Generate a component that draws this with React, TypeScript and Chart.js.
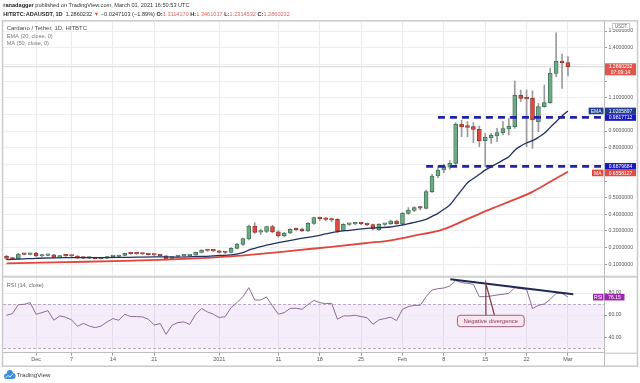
import React, { useEffect, useRef } from 'react';
import { Chart, registerables } from 'chart.js';

Chart.register(...registerables);

const FONT = '"Liberation Sans", Arial, Helvetica, sans-serif';

// Day offsets counted from 1 Dec 2020 (= 0); first candle is 26 Nov 2020.
const FIRST_DAY = -5;
const X_MIN = -5.6;
const X_MAX = 96.1;
const Y_MIN = -0.4306;
const Y_MAX = 1.5544;
const RSI_MIN = 26;
const RSI_MAX = 324.6;
const PANE_SPLIT_RSI = 94.6;

const opens = [
  0.148, 0.134, 0.134, 0.161, 0.160, 0.166, 0.150, 0.154, 0.157, 0.143,
  0.152, 0.151, 0.150, 0.138, 0.137, 0.138, 0.134, 0.137, 0.146, 0.147,
  0.154, 0.166, 0.164, 0.163, 0.162, 0.158, 0.156, 0.151, 0.131, 0.147,
  0.151, 0.152, 0.155, 0.172, 0.186, 0.183, 0.181, 0.172, 0.171, 0.196,
  0.220, 0.252, 0.330, 0.293, 0.298, 0.326, 0.295, 0.272, 0.288, 0.310,
  0.312, 0.300, 0.346, 0.376, 0.373, 0.370, 0.370, 0.304, 0.340, 0.343,
  0.346, 0.343, 0.338, 0.308, 0.340, 0.343, 0.360, 0.342, 0.406, 0.423,
  0.439, 0.436, 0.536, 0.630, 0.666, 0.683, 0.706, 0.940, 0.932, 0.926,
  0.910, 0.842, 0.858, 0.870, 0.890, 0.912, 0.926, 1.114, 1.096, 1.096,
  0.956, 1.046, 1.070, 1.246, 1.318, 1.3114170,
];
const highs = [
  0.154, 0.140, 0.166, 0.166, 0.168, 0.172, 0.158, 0.161, 0.160, 0.154,
  0.156, 0.154, 0.152, 0.142, 0.141, 0.140, 0.139, 0.148, 0.150, 0.156,
  0.168, 0.170, 0.167, 0.166, 0.164, 0.161, 0.159, 0.153, 0.148, 0.153,
  0.154, 0.157, 0.174, 0.188, 0.190, 0.186, 0.184, 0.178, 0.200, 0.226,
  0.258, 0.336, 0.350, 0.312, 0.330, 0.334, 0.302, 0.292, 0.314, 0.318,
  0.318, 0.350, 0.384, 0.384, 0.380, 0.378, 0.374, 0.344, 0.348, 0.350,
  0.350, 0.347, 0.342, 0.344, 0.346, 0.366, 0.366, 0.412, 0.440, 0.446,
  0.448, 0.546, 0.640, 0.690, 0.700, 0.722, 0.950, 0.966, 0.956, 0.950,
  0.930, 0.886, 0.886, 0.916, 0.956, 0.976, 1.200, 1.146, 1.146, 1.142,
  1.066, 1.176, 1.276, 1.490, 1.362, 1.3461017,
];
const lows = [
  0.128, 0.128, 0.132, 0.156, 0.157, 0.146, 0.146, 0.150, 0.140, 0.140,
  0.148, 0.146, 0.136, 0.134, 0.134, 0.132, 0.132, 0.136, 0.143, 0.145,
  0.152, 0.160, 0.159, 0.158, 0.155, 0.152, 0.149, 0.126, 0.129, 0.144,
  0.148, 0.149, 0.153, 0.168, 0.178, 0.176, 0.168, 0.166, 0.168, 0.192,
  0.214, 0.246, 0.286, 0.278, 0.290, 0.288, 0.262, 0.264, 0.284, 0.300,
  0.296, 0.296, 0.340, 0.362, 0.360, 0.356, 0.290, 0.300, 0.334, 0.338,
  0.338, 0.332, 0.306, 0.304, 0.334, 0.340, 0.340, 0.332, 0.400, 0.416,
  0.426, 0.432, 0.530, 0.620, 0.650, 0.670, 0.700, 0.866, 0.866, 0.830,
  0.806, 0.686, 0.826, 0.836, 0.876, 0.876, 0.916, 1.076, 0.806, 0.796,
  0.896, 1.042, 1.066, 1.226, 1.156, 1.2314532,
];
const closes = [
  0.136, 0.132, 0.162, 0.160, 0.164, 0.150, 0.154, 0.158, 0.142, 0.152,
  0.151, 0.150, 0.138, 0.137, 0.138, 0.134, 0.137, 0.146, 0.148, 0.154,
  0.166, 0.164, 0.163, 0.162, 0.158, 0.156, 0.152, 0.131, 0.146, 0.151,
  0.152, 0.155, 0.172, 0.186, 0.183, 0.181, 0.171, 0.171, 0.196, 0.222,
  0.254, 0.330, 0.292, 0.297, 0.326, 0.294, 0.272, 0.288, 0.310, 0.308,
  0.302, 0.346, 0.380, 0.374, 0.370, 0.366, 0.300, 0.340, 0.343, 0.346,
  0.344, 0.338, 0.312, 0.340, 0.341, 0.360, 0.344, 0.406, 0.426, 0.440,
  0.437, 0.536, 0.630, 0.666, 0.686, 0.706, 0.940, 0.926, 0.922, 0.910,
  0.842, 0.862, 0.874, 0.890, 0.914, 0.930, 1.114, 1.096, 1.093, 0.966,
  1.046, 1.070, 1.246, 1.318, 1.311, 1.2860232,
];
const rsiValues = [
  59.8, 61.3, 69.4, 69.7, 71.2, 60.7, 62.2, 64.0, 55.3, 59.2,
  58.0, 55.6, 49.8, 52.5, 50.1, 48.6, 50.1, 53.8, 56.8, 55.3,
  60.7, 58.6, 58.6, 58.3, 56.2, 51.0, 52.3, 42.6, 50.7, 53.2,
  53.8, 51.6, 60.7, 65.8, 62.8, 60.7, 57.7, 58.6, 66.7, 71.2,
  76.6, 84.7, 73.6, 73.6, 76.3, 68.2, 60.7, 62.2, 66.1, 66.1,
  65.2, 69.4, 73.3, 71.2, 70.3, 70.6, 56.2, 59.2, 59.2, 59.8,
  58.6, 57.7, 51.6, 55.6, 56.8, 58.0, 55.0, 65.2, 67.6, 68.8,
  68.8, 76.6, 82.6, 83.8, 84.4, 86.2, 91.1, 89.3, 88.7, 87.7,
  76.6, 76.6, 77.2, 78.1, 78.7, 79.6, 84.7, 83.8, 83.2, 65.8,
  68.8, 70.0, 74.2, 79.6, 79.6, 76.15,
];

const emaDays = [-5, -2, 0, 5, 10, 15, 20, 24, 28, 31, 33, 35, 36, 37, 38, 39, 41, 44, 47, 49, 51, 53, 56, 58, 60, 62, 64, 66, 67, 68, 69, 70, 71, 72, 73, 74, 75, 76, 77, 78, 79, 80, 81, 82, 83, 84, 85, 86, 87, 88, 89, 90];
const emaValues = [0.128, 0.133, 0.136, 0.140, 0.140, 0.142, 0.145, 0.143, 0.147, 0.153, 0.157, 0.170, 0.185, 0.196, 0.206, 0.215, 0.230, 0.250, 0.268, 0.282, 0.296, 0.304, 0.316, 0.320, 0.324, 0.336, 0.352, 0.370, 0.388, 0.406, 0.430, 0.456, 0.500, 0.545, 0.590, 0.615, 0.640, 0.665, 0.685, 0.705, 0.725, 0.745, 0.785, 0.810, 0.828, 0.842, 0.862, 0.886, 0.922, 0.956, 0.990, 1.0205897];

const maDays = [-5, 5, 15, 22, 28, 33, 38, 44, 50, 56, 60, 64, 68, 70, 72, 75, 78, 81, 84, 87, 90];
const maValues = [0.106, 0.113, 0.120, 0.128, 0.137, 0.147, 0.162, 0.184, 0.205, 0.228, 0.244, 0.272, 0.300, 0.325, 0.356, 0.403, 0.447, 0.490, 0.535, 0.595, 0.6558127];

const tickDays = [0, 6, 13, 20, 31, 41, 48, 55, 62, 69, 76, 83, 90];
const tickLabels = ['Dec', '7', '14', '21', '2021', '11', '18', '25', 'Feb', '8', '15', '22', 'Mar'];
const priceTicks = [0.1, 0.2, 0.3, 0.4, 0.5, 0.6, 0.7, 0.8, 0.9, 1.0, 1.1, 1.2, 1.3, 1.4, 1.5];
const hiddenPriceTicks = [0.6, 0.7, 1.0, 1.2, 1.3];
const rsiTicks = [40, 60, 80];
const rsiBand = [30, 70];
const levelValues = [0.9817712, 0.6879684];
const levelStartDays = [68, 66];
const divergenceDays = [70.1, 90.9];
const divergenceRsi = [92.3, 78.8];
const lastRsiText = '76.15';
const countdownText = '07:09:14';

const headerLine1 = ['ranadagger', ' published on TradingView.com, March 01, 2021 16:50:53 UTC'];
const headerLine2: [string, boolean, string][] = [
  ['HITBTC:ADAUSDT, 1D', true, '#2b2b2b'],
  ['  1.2860232 ', false, '#2b2b2b'],
  ['\u25BC', false, '#e0504a'],
  [' \u22120.0247103 (\u22121.89%) ', false, '#2b2b2b'],
  ['O:', true, '#2b2b2b'],
  ['1.3114170', false, '#e3645b'],
  [' H:', true, '#2b2b2b'],
  ['1.3461017', false, '#e3645b'],
  [' L:', true, '#2b2b2b'],
  ['1.2314532', false, '#e3645b'],
  [' C:', true, '#2b2b2b'],
  ['1.2860232', false, '#e3645b'],
];
const legendLines = ['Cardano / Tether, 1D, HITBTC', 'EMA (20, close, 0)', 'MA (50, close, 0)'];

const UP_FILL = '#6aab84';
const UP_EDGE = '#3c6a4f';
const DOWN_FILL = '#e0493f';
const DOWN_EDGE = '#8a2e27';

function tag(ctx: CanvasRenderingContext2D, x: number, y: number, w: number, h: number, bg: string, lines: string[], align: 'center' | 'left' = 'center') {
  ctx.fillStyle = bg;
  ctx.fillRect(x, y, w, h);
  ctx.fillStyle = '#ffffff';
  ctx.font = `5px ${FONT}`;
  ctx.textBaseline = 'middle';
  ctx.textAlign = align;
  const lh = h / lines.length;
  lines.forEach((t, i) => {
    ctx.fillText(t, align === 'center' ? x + w / 2 : x + 2, y + lh * i + lh / 2 + 0.2);
  });
}

const decor = {
  id: 'decor',
  beforeDatasetsDraw(chart: any) {
    const { ctx, chartArea: a } = chart;
    const yr = chart.scales.yr;
    ctx.save();
    const y70 = yr.getPixelForValue(rsiBand[1]);
    const y30 = yr.getPixelForValue(rsiBand[0]);
    ctx.fillStyle = 'rgba(160, 100, 205, 0.11)';
    ctx.fillRect(a.left, y70, a.right - a.left, y30 - y70);
    ctx.strokeStyle = '#ececec';
    ctx.lineWidth = 1;
    rsiTicks.forEach((v) => {
      const y = Math.round(yr.getPixelForValue(v)) + 0.5;
      ctx.beginPath();
      ctx.moveTo(a.left, y);
      ctx.lineTo(a.right, y);
      ctx.stroke();
    });
    ctx.setLineDash([3, 2]);
    ctx.strokeStyle = '#b9a8c6';
    [y70, y30].forEach((yy) => {
      const y = Math.round(yy) + 0.5;
      ctx.beginPath();
      ctx.moveTo(a.left, y);
      ctx.lineTo(a.right, y);
      ctx.stroke();
    });
    ctx.restore();
  },
  afterDatasetsDraw(chart: any) {
    const { ctx } = chart;
    const x = chart.scales.x;
    const yr = chart.scales.yr;
    ctx.save();
    // callout for the annotation
    const ax = x.getPixelForValue(76.1);
    const ay = yr.getPixelForValue(88.7);
    const bl = x.getPixelForValue(76.12);
    const br = x.getPixelForValue(77.57);
    const bx1 = x.getPixelForValue(71.3);
    const bx2 = x.getPixelForValue(82.6);
    const by1 = yr.getPixelForValue(59.8);
    const by2 = yr.getPixelForValue(49.5);
    ctx.strokeStyle = '#8a3545';
    ctx.lineWidth = 1.2;
    ctx.beginPath();
    ctx.moveTo(bl, by1);
    ctx.lineTo(ax, ay);
    ctx.lineTo(br, by1);
    ctx.stroke();
    ctx.fillStyle = '#f9e6ef';
    ctx.strokeStyle = '#a0607d';
    ctx.lineWidth = 1;
    ctx.beginPath();
    if ((ctx as any).roundRect) (ctx as any).roundRect(bx1, by1, bx2 - bx1, by2 - by1, 3);
    else ctx.rect(bx1, by1, bx2 - bx1, by2 - by1);
    ctx.fill();
    ctx.stroke();
    ctx.fillStyle = '#8a3a62';
    ctx.font = `6px ${FONT}`;
    ctx.textAlign = 'center';
    ctx.textBaseline = 'middle';
    ctx.fillText('Negative divergence', (bx1 + bx2) / 2, (by1 + by2) / 2 + 0.3);
    ctx.restore();
  },
  afterDraw(chart: any) {
    const { ctx, chartArea: a } = chart;
    const x = chart.scales.x;
    const y = chart.scales.y;
    const yr = chart.scales.yr;
    ctx.save();

    // pane separator and frame
    const ySep = yr.getPixelForValue(PANE_SPLIT_RSI);
    ctx.fillStyle = '#cfcfcf';
    ctx.fillRect(2, ySep - 1, 636, 2);
    ctx.strokeStyle = '#bdbdbd';
    ctx.lineWidth = 1;
    ctx.beginPath();
    ctx.moveTo(a.right + 0.5, 21);
    ctx.lineTo(a.right + 0.5, 366);
    ctx.moveTo(a.right, a.bottom + 0.5);
    ctx.lineTo(637, a.bottom + 0.5);
    ctx.stroke();
    ctx.strokeStyle = '#cacaca';
    ctx.lineWidth = 1.5;
    ctx.strokeRect(2.5, 20.8, 635, 345.4);

    // header
    ctx.textBaseline = 'middle';
    ctx.textAlign = 'left';
    let hx = 3.3;
    ctx.fillStyle = '#222';
    ctx.font = `bold 5.6px ${FONT}`;
    ctx.fillText(headerLine1[0], hx, 5.7);
    hx += ctx.measureText(headerLine1[0]).width;
    ctx.font = `5.6px ${FONT}`;
    ctx.fillStyle = '#333';
    ctx.fillText(headerLine1[1], hx, 5.7);
    hx = 3.3;
    headerLine2.forEach(([t, bold, c]) => {
      ctx.font = `${bold ? 'bold ' : ''}5.6px ${FONT}`;
      ctx.fillStyle = c;
      ctx.fillText(t, hx, 14);
      hx += ctx.measureText(t).width;
    });

    // legend
    ctx.font = `6px ${FONT}`;
    ctx.fillStyle = '#4a4a4a';
    ctx.fillText(legendLines[0], 6.7, 28.7);
    ctx.font = `5.6px ${FONT}`;
    ctx.fillStyle = '#7a7a7a';
    ctx.fillText(legendLines[1], 6.7, 36.6);
    ctx.fillText(legendLines[2], 6.7, 43.6);
    ctx.fillStyle = '#666';
    ctx.fillText('RSI (14, close)', 6.7, ySep + 8.5);

    // RSI axis labels
    ctx.strokeStyle = '#999';
    ctx.lineWidth = 1;
    ctx.font = `5.2px ${FONT}`;
    ctx.fillStyle = '#555';
    rsiTicks.forEach((v) => {
      const py = yr.getPixelForValue(v);
      ctx.beginPath();
      ctx.moveTo(a.right, Math.round(py) + 0.5);
      ctx.lineTo(a.right + 3, Math.round(py) + 0.5);
      ctx.stroke();
      ctx.fillText(v.toFixed(2), a.right + 4.5, py);
    });

    // right-hand value tags for the main pane
    const last = closes.length - 1;
    const emaLast = emaValues[emaValues.length - 1];
    const maLast = maValues[maValues.length - 1];
    const tags = [
      { py: y.getPixelForValue(closes[last]), h: 12, off: 3.4, lines: [closes[last].toFixed(7), countdownText], bg: '#e0564c', label: '' },
      { py: y.getPixelForValue(emaLast), h: 6.6, off: 3.3, lines: [emaLast.toFixed(7)], bg: '#1f3f8c', label: 'EMA' },
      { py: y.getPixelForValue(levelValues[0]), h: 6.6, off: 3.3, lines: [levelValues[0].toFixed(7)], bg: '#1818bf', label: '' },
      { py: y.getPixelForValue(levelValues[1]), h: 6.6, off: 3.3, lines: [levelValues[1].toFixed(7)], bg: '#1818bf', label: '' },
      { py: y.getPixelForValue(maLast), h: 6.6, off: 3.3, lines: [maLast.toFixed(7)], bg: '#df4b40', label: 'MA' },
    ].sort((p, q) => p.py - q.py);
    let prevBottom = -Infinity;
    tags.forEach((t) => {
      let top = t.py - t.off;
      if (top < prevBottom) top = prevBottom;
      prevBottom = top + t.h;
      tag(ctx, a.right + 1, top, 31, t.h, t.bg, t.lines);
      if (t.label) {
        ctx.font = `5px ${FONT}`;
        const w = ctx.measureText(t.label).width + 4;
        tag(ctx, a.right - w - 0.5, top, w, 6.6, t.bg, [t.label]);
      }
    });

    // RSI tags
    const ry = yr.getPixelForValue(rsiValues[rsiValues.length - 1]);
    tag(ctx, a.right + 0.5, ry - 3.3, 20, 6.6, '#9b27af', [lastRsiText]);
    tag(ctx, a.right - 11, ry - 3.3, 10.5, 6.6, '#9b27af', ['RSI']);

    // USDT box
    ctx.fillStyle = '#fff';
    ctx.fillRect(612.5, 23.5, 17, 6);
    ctx.strokeStyle = '#bbb';
    ctx.lineWidth = 0.8;
    ctx.strokeRect(612.5, 23.5, 17, 6);
    ctx.fillStyle = '#666';
    ctx.font = `4.5px ${FONT}`;
    ctx.textAlign = 'center';
    ctx.fillText('USDT', 621, 26.7);

    // TradingView logo
    ctx.fillStyle = '#3d8fe4';
    ctx.beginPath();
    ctx.arc(6.8, 376.2, 2.8, Math.PI * 0.5, Math.PI * 1.5);
    ctx.arc(9.8, 373.2, 3.2, Math.PI * 1.05, Math.PI * 1.95);
    ctx.arc(12.6, 376, 3, Math.PI * 1.5, Math.PI * 0.5);
    ctx.closePath();
    ctx.fill();
    ctx.strokeStyle = '#fff';
    ctx.lineWidth = 0.8;
    ctx.beginPath();
    ctx.moveTo(5.5, 377.5);
    ctx.lineTo(8, 375.5);
    ctx.lineTo(10, 377);
    ctx.lineTo(13, 373.8);
    ctx.stroke();
    ctx.fillStyle = '#3a3a3a';
    ctx.font = `6.2px ${FONT}`;
    ctx.textAlign = 'left';
    ctx.fillText('TradingView', 16.5, 375.6);
    ctx.restore();
  },
};

export default function App() {
  const ref = useRef<HTMLCanvasElement>(null);
  useEffect(() => {
    document.body.style.margin = '0';
    const canvas = ref.current;
    if (!canvas) return;
    const days = closes.map((_, i) => FIRST_DAY + i);
    const up = closes.map((c, i) => c >= opens[i]);
    const last = closes.length - 1;
    const chart = new Chart(canvas, {
      type: 'bar',
      data: {
        datasets: [
          {
            type: 'line',
            label: 'Divergence',
            data: divergenceDays.map((d, i) => ({ x: d, y: divergenceRsi[i] })),
            yAxisID: 'yr',
            borderColor: '#1d2a56',
            borderWidth: 2,
            pointRadius: 0,
            order: 0,
          } as any,
          {
            type: 'line',
            label: 'RSI',
            data: days.map((d, i) => ({ x: d, y: rsiValues[i] })),
            yAxisID: 'yr',
            borderColor: '#8d6a9a',
            borderWidth: 1,
            pointRadius: 0,
            order: 1,
          } as any,
          {
            type: 'line',
            label: 'EMA',
            data: emaDays.map((d, i) => ({ x: d, y: emaValues[i] })),
            yAxisID: 'y',
            borderColor: '#1f3163',
            borderWidth: 1.3,
            pointRadius: 0,
            cubicInterpolationMode: 'monotone',
            order: 2,
          } as any,
          {
            type: 'line',
            label: 'MA',
            data: maDays.map((d, i) => ({ x: d, y: maValues[i] })),
            yAxisID: 'y',
            borderColor: '#e0463d',
            borderWidth: 1.8,
            pointRadius: 0,
            cubicInterpolationMode: 'monotone',
            order: 2,
          } as any,
          ...levelValues.map((v, i) => ({
            type: 'line',
            label: 'Level ' + i,
            data: [{ x: levelStartDays[i], y: v }, { x: X_MAX, y: v }],
            yAxisID: 'y',
            borderColor: '#2323a8',
            borderWidth: 2.6,
            borderDash: [7, 5],
            pointRadius: 0,
            order: 3,
          }) as any),
          {
            type: 'bar',
            label: 'Body',
            data: days.map((d, i) => ({ x: d, y: [opens[i], closes[i]] })),
            yAxisID: 'y',
            backgroundColor: up.map((u) => (u ? UP_FILL : DOWN_FILL)),
            borderColor: up.map((u) => (u ? UP_EDGE : DOWN_EDGE)),
            borderWidth: 0.8,
            borderSkipped: false,
            barThickness: 4,
            minBarLength: 1.5,
            grouped: false,
            order: 4,
          } as any,
          {
            type: 'bar',
            label: 'Wick',
            data: days.map((d, i) => ({ x: d, y: [lows[i], highs[i]] })),
            yAxisID: 'y',
            backgroundColor: '#9a9a9a',
            borderWidth: 0,
            barThickness: 1,
            grouped: false,
            order: 5,
          } as any,
          {
            type: 'line',
            label: 'Price line',
            data: [{ x: X_MIN, y: closes[last] }, { x: X_MAX, y: closes[last] }],
            yAxisID: 'y',
            borderColor: '#d4d4d4',
            borderWidth: 1,
            pointRadius: 0,
            order: 6,
          } as any,
        ],
      },
      options: {
        responsive: false,
        animation: false,
        devicePixelRatio: 1,
        layout: { padding: { left: 3, top: 22, right: 0, bottom: 18.3 } },
        plugins: { legend: { display: false }, tooltip: { enabled: false } },
        scales: {
          x: {
            type: 'linear',
            min: X_MIN,
            max: X_MAX,
            offset: false,
            afterBuildTicks: (s: any) => {
              s.ticks = tickDays.map((v) => ({ value: v }));
            },
            afterFit: (s: any) => {
              s.height = 12;
            },
            ticks: {
              autoSkip: false,
              maxRotation: 0,
              padding: 0.5,
              color: '#555',
              font: { size: 5.5, family: FONT },
              callback: (_v: any, i: number) => tickLabels[i],
            },
            grid: { color: '#ebebeb', tickLength: 3, tickColor: '#999', offset: false },
            border: { color: '#bdbdbd' },
          },
          y: {
            type: 'linear',
            position: 'right',
            min: Y_MIN,
            max: Y_MAX,
            afterBuildTicks: (s: any) => {
              s.ticks = priceTicks.map((v) => ({ value: v }));
            },
            afterFit: (s: any) => {
              s.width = 36;
            },
            ticks: {
              padding: 1.5,
              color: '#555',
              font: { size: 5.2, family: FONT },
              callback: (v: any) =>
                hiddenPriceTicks.some((h) => Math.abs(h - Number(v)) < 1e-6) ? '' : Number(v).toFixed(7),
            },
            grid: { color: '#eeeeee', tickLength: 3, tickColor: '#999' },
            border: { color: '#bdbdbd' },
          },
          yr: {
            type: 'linear',
            position: 'right',
            display: false,
            min: RSI_MIN,
            max: RSI_MAX,
          },
        },
      } as any,
      plugins: [decor],
    });
    return () => chart.destroy();
  }, []);
  return <canvas ref={ref} width={640} height={383} style={{ display: 'block' }} />;
}
